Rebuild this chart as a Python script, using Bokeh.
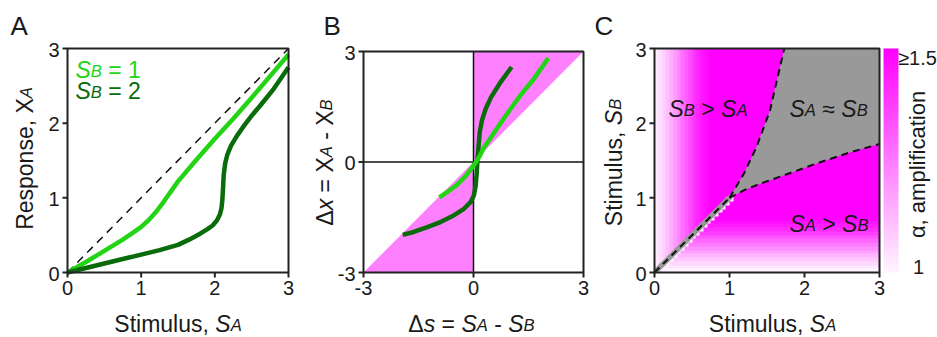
import numpy as np
from bokeh.plotting import figure
from bokeh.models import Range1d, LinearColorMapper
from bokeh.core.properties import value
from bokeh.layouts import row
from bokeh.embed import file_html
from bokeh.resources import INLINE

FONT = "Liberation Sans"
TXT = "#1a1a1a"
LINE = "#222222"
LIGHT = "#22d414"
DARK = "#0a6b0a"
PINK = "#ff80ff"
GRAY = "#999999"

# ---------------- data ----------------
# Panel A: response X_A vs stimulus S_A
a_light_sa = [0, 0.25, 0.5, 0.75, 0.9, 1.0, 1.1, 1.2, 1.3, 1.4, 1.5, 1.75, 2.0, 2.25, 2.5, 2.75, 3.0]
a_light_xa = [0, 0.14, 0.29, 0.44, 0.54, 0.61, 0.70, 0.81, 0.94, 1.08, 1.22, 1.51, 1.79, 2.06, 2.34, 2.63, 2.92]
a_dark_sa = [0, 0.25, 0.5, 0.75, 1.0, 1.25, 1.5, 1.65, 1.8, 1.9, 1.97, 2.03, 2.07, 2.09, 2.10,
             2.11, 2.12, 2.14, 2.17, 2.22, 2.3, 2.4, 2.5, 2.62, 2.8, 3.0]
a_dark_xa = [0, 0.06, 0.12, 0.18, 0.24, 0.30, 0.37, 0.44, 0.52, 0.58, 0.63, 0.70, 0.78, 0.86, 0.95,
             1.10, 1.30, 1.46, 1.58, 1.70, 1.83, 1.97, 2.10, 2.24, 2.46, 2.75]
a_lim = [0, 3]
a_ticks = [0, 1, 2, 3]
a_tick_labels = ["0", "1", "2", "3"]

# Panel B: delta x vs delta s
b_light_ds = [-0.93, -0.72, -0.45, -0.22, 0.0, 0.15, 0.28, 0.51, 0.74, 1.01, 1.28, 1.65, 2.04]
b_light_dx = [-0.96, -0.82, -0.62, -0.39, -0.10, 0.13, 0.38, 0.72, 1.06, 1.44, 1.81, 2.26, 2.82]
b_dark_ds = [-1.93, -1.63, -1.26, -0.90, -0.54, -0.26, -0.08, 0.01, 0.06, 0.09, 0.11, 0.14, 0.17,
             0.23, 0.33, 0.48, 0.74, 1.04]
b_dark_dx = [-1.98, -1.90, -1.77, -1.63, -1.45, -1.27, -1.09, -0.91, -0.64, -0.28, 0.09, 0.45, 0.81,
             1.13, 1.44, 1.76, 2.17, 2.58]
b_tri_x = [[-3, 0, 0], [0, 0, 3]]
b_tri_y = [[-3, -3, 0], [0, 3, 3]]
b_lim = [-3, 3]
b_ticks = [-3, 0, 3]
b_tick_labels = ["-3", "0", "3"]

# Panel C: amplification map
c_profile_step = 0.05
c_alpha_by_sa = [1.02, 1.05, 1.08, 1.11, 1.15, 1.19, 1.23, 1.27, 1.31, 1.35, 1.39,
                 1.42, 1.45, 1.47, 1.49, 1.5, 1.5, 1.5, 1.5, 1.5, 1.5]
c_alpha_by_sb = [1.0, 1.03, 1.06, 1.09, 1.13, 1.17, 1.21, 1.25, 1.29, 1.33, 1.37,
                 1.41, 1.44, 1.47, 1.49, 1.5, 1.5, 1.5, 1.5, 1.5, 1.5]
c_upper_x = [1.0, 1.19, 1.36, 1.54, 1.73]
c_upper_y = [1.0, 1.32, 1.68, 2.17, 3.0]
c_lower_x = [1.0, 1.19, 1.41, 1.72, 2.16, 2.61, 3.0]
c_lower_y = [1.0, 1.10, 1.19, 1.30, 1.46, 1.61, 1.72]
c_corner = [3.0, 3.0]
c_diag = [0, 1]
c_band_x = [0, 0.05, 1.04, 0.98, 0]
c_band_y = [0, 0, 0.99, 1.03, 0.05]
c_lim = [0, 3]
c_ticks = [0, 1, 2, 3]
c_tick_labels = ["0", "1", "2", "3"]
cbar_low, cbar_high = 1.0, 1.5
cbar_labels = ["\u22651.5", "1"]

# ---------------- text helpers ----------------
W = {'S': 667, 't': 278, 'i': 222, 'm': 833, 'u': 556, 'l': 222, 's': 500, ',': 278, ' ': 278,
     'R': 722, 'e': 556, 'p': 556, 'o': 556, 'n': 556, 'X': 667, 'A': 667, 'B': 667, 'x': 500,
     '=': 584, '-': 333, '>': 584, '\u2248': 549, '\u2265': 549, '\u0394': 668, '\u03b1': 578,
     'a': 556, 'f': 278, 'c': 500, '.': 278}
SMALL = 0.72
CH = 337
AX = 23
TK = 20
KB = 0.30   # baseline correction (fraction of font size)


def tw(s, size):
    return sum(W.get(ch, 556) for ch in s) * size / 1000.0


class Panel:
    """Figure whose canvas is all frame; data limits map onto the given page pixels."""

    def __init__(self, left, width, xlim, ylim, px_x, px_y):
        self.xlim, self.ylim = xlim, ylim
        self.ppx = (px_x[1] - px_x[0]) / (xlim[1] - xlim[0])
        self.ppy = (px_y[0] - px_y[1]) / (ylim[1] - ylim[0])
        self.pxo, self.pyo = px_x[0], px_y[0]
        self.fl = px_x[0]
        p = figure(width=width, height=CH,
                   x_range=Range1d(self.X(left), self.X(left + width)),
                   y_range=Range1d(self.Y(CH), self.Y(0)),
                   output_backend="svg", toolbar_location=None,
                   x_axis_location=None, y_axis_location=None, min_border=0)
        p.outline_line_color = None
        p.grid.visible = False
        p.title.visible = False
        p.background_fill_color = "white"
        p.border_fill_color = "white"
        self.p = p

    def X(self, px):
        return self.xlim[0] + (px - self.pxo) / self.ppx

    def Y(self, py):
        return self.ylim[0] + (self.pyo - py) / self.ppy

    def text(self, px, py, s, size, style="normal", color=TXT, align="left", angle=0.0):
        if angle == 0:
            py = py - KB * size
        else:
            px = px - KB * size
        self.p.text(x=[self.X(px)], y=[self.Y(py)], text=[s], text_font=value(FONT),
                    text_font_size=value(f"{size:.1f}px"), text_font_style=value(style),
                    text_color=color, text_align=value(align), text_baseline=value("alphabetic"),
                    angle=angle)

    def runs(self, px, py, parts, size, color=TXT, align="left", rotated=False):
        sizes = [size * SMALL if st == "s" else size for _, st in parts]
        total = sum(tw(t, sz) for (t, _), sz in zip(parts, sizes))
        pos = {"left": 0.0, "center": -total / 2.0}[align]
        for (t, st), sz in zip(parts, sizes):
            lead = len(t) - len(t.lstrip(" "))
            core = t.strip(" ")
            s0 = pos + tw(" " * lead, sz)
            fs = "italic" if st in ("i", "s") else "normal"
            if core:
                if rotated:
                    self.text(px, py - s0, core, sz, fs, color, "left", np.pi / 2)
                else:
                    self.text(px + s0, py, core, sz, fs, color, "left")
            pos += tw(t, sz)

    def axes(self, xticks, xlabels, yticks, ylabels):
        p = self.p
        x0, x1 = self.xlim
        y0, y1 = self.ylim
        tx = 5.0 / self.ppy
        ty = 5.0 / self.ppx
        p.segment(x0=xticks, y0=[y0] * len(xticks), x1=xticks, y1=[y0 - tx] * len(xticks),
                  line_color=LINE, line_width=2)
        p.segment(x0=[x0] * len(yticks), y0=yticks, x1=[x0 - ty] * len(yticks), y1=yticks,
                  line_color=LINE, line_width=2)
        p.text(x=xticks, y=[self.Y(293 - KB * TK)] * len(xticks), text=xlabels,
               text_font=value(FONT), text_font_size=value(f"{TK}px"), text_color=TXT,
               text_align=value("center"), text_baseline=value("alphabetic"))
        p.text(x=[self.X(self.fl - 8)] * len(yticks),
               y=[t - (7.2 - KB * TK) / self.ppy for t in yticks],
               text=ylabels, text_font=value(FONT), text_font_size=value(f"{TK}px"),
               text_color=TXT, text_align=value("right"), text_baseline=value("alphabetic"))
        p.quad(left=[x0], right=[x1], bottom=[y0], top=[y1], fill_color=None,
               line_color=LINE, line_width=2)


# ---------------- Panel A ----------------
A = Panel(0, 300, a_lim, a_lim, (67, 288), (272, 48))
pa = A.p
pa.line(a_lim, a_lim, line_color="#111111", line_width=1.5, line_dash="8 6")
pa.line(a_light_sa, a_light_xa, line_color=LIGHT, line_width=4.5)
pa.line(a_dark_sa, a_dark_xa, line_color=DARK, line_width=4.5)
A.axes(a_ticks, a_tick_labels, a_ticks, a_tick_labels)
A.runs(75, 76, [("S", "i"), ("B", "s"), (" = 1", "n")], AX, color=LIGHT)
A.runs(75, 97, [("S", "i"), ("B", "s"), (" = 2", "n")], AX, color=DARK)
A.runs(177.5, 330, [("Stimulus, ", "n"), ("S", "i"), ("A", "s")], AX, align="center")
A.runs(31, 158, [("Response, X", "n"), ("A", "s")], AX, align="center", rotated=True)
A.text(10, 33, "A", 26)

# ---------------- Panel B ----------------
B = Panel(300, 290, b_lim, b_lim, (363, 583), (272, 51))
pb = B.p
pb.patches(b_tri_x, b_tri_y, fill_color=PINK, line_color=None)
pb.segment(x0=[0, b_lim[0]], y0=[b_lim[0], 0], x1=[0, b_lim[1]], y1=[b_lim[1], 0],
           line_color="#111111", line_width=1.5)
pb.line(b_dark_ds, b_dark_dx, line_color=DARK, line_width=4.5)
pb.line(b_light_ds, b_light_dx, line_color=LIGHT, line_width=4.5)
B.axes(b_ticks, b_tick_labels, b_ticks, b_tick_labels)
B.runs(471, 330, [("\u0394", "n"), ("s", "i"), (" = ", "n"), ("S", "i"), ("A", "s"), (" - ", "n"),
                  ("S", "i"), ("B", "s")], AX, align="center")
B.runs(331, 162, [("\u0394", "n"), ("x", "i"), (" = X", "n"), ("A", "s"), (" - X", "n"), ("B", "s")],
       AX, align="center", rotated=True)
B.text(323, 33, "B", 26)

# ---------------- Panel C ----------------
g = np.linspace(245, 0, 256)
palette = ["#%02x%02x%02x" % (255, int(round(v)), 255) for v in g]
mapper = LinearColorMapper(palette=palette, low=cbar_low, high=cbar_high)

nsa = int(round((c_lim[1] - c_lim[0]) / c_profile_step))
img = np.zeros((nsa, nsa))
last = len(c_alpha_by_sa) - 1
for j in range(nsa):
    for i in range(nsa):
        if j > i:
            img[j, i] = c_alpha_by_sa[min(i, last)]
        else:
            img[j, i] = c_alpha_by_sb[min(j, last)]
            if i - j <= 1 and i <= last:
                img[j, i] = cbar_low

C = Panel(590, 347, c_lim, c_lim, (654, 879), (272, 48))
pc = C.p
pc.image(image=[img], x=c_lim[0], y=c_lim[0], dw=c_lim[1] - c_lim[0], dh=c_lim[1] - c_lim[0],
         color_mapper=mapper)
gx = c_upper_x + [c_corner[0]] + c_lower_x[::-1]
gy = c_upper_y + [c_corner[1]] + c_lower_y[::-1]
pc.patch(gx, gy, fill_color=GRAY, line_color=None)
pc.patch(c_band_x, c_band_y, fill_color=GRAY, line_color=None)
for xs, ys in ((c_diag, c_diag), (c_upper_x, c_upper_y), (c_lower_x, c_lower_y)):
    pc.line(xs, ys, line_color="#111111", line_width=2, line_dash="7 5")
C.axes(c_ticks, c_tick_labels, c_ticks, c_tick_labels)

C.runs(668, 115, [("S", "i"), ("B", "s"), (" > ", "n"), ("S", "i"), ("A", "s")], AX)
C.runs(789, 115, [("S", "i"), ("A", "s"), (" \u2248 ", "n"), ("S", "i"), ("B", "s")], AX)
C.runs(789, 230, [("S", "i"), ("A", "s"), (" > ", "n"), ("S", "i"), ("B", "s")], AX)
C.runs(772, 330, [("Stimulus, ", "n"), ("S", "i"), ("A", "s")], AX, align="center")
C.runs(620, 162, [("Stimulus, ", "n"), ("S", "i"), ("B", "s")], AX, align="center", rotated=True)
C.text(594, 33, "C", 26)

# colour bar, drawn with the same mapper
grad = np.linspace(cbar_low, cbar_high, 256).reshape(-1, 1)
pc.image(image=[grad], x=C.X(883), y=c_lim[0], dw=C.X(898) - C.X(883), dh=c_lim[1] - c_lim[0],
         color_mapper=mapper)
C.text(917, 63, cbar_labels[0], TK, align="center")
C.text(918, 272, cbar_labels[1], TK, align="center")
C.text(924, 164, "\u03b1, amplification", 22, align="center", angle=np.pi / 2)

layout = row(pa, pb, pc)
open("out.html", "w").write(file_html(layout, INLINE))
